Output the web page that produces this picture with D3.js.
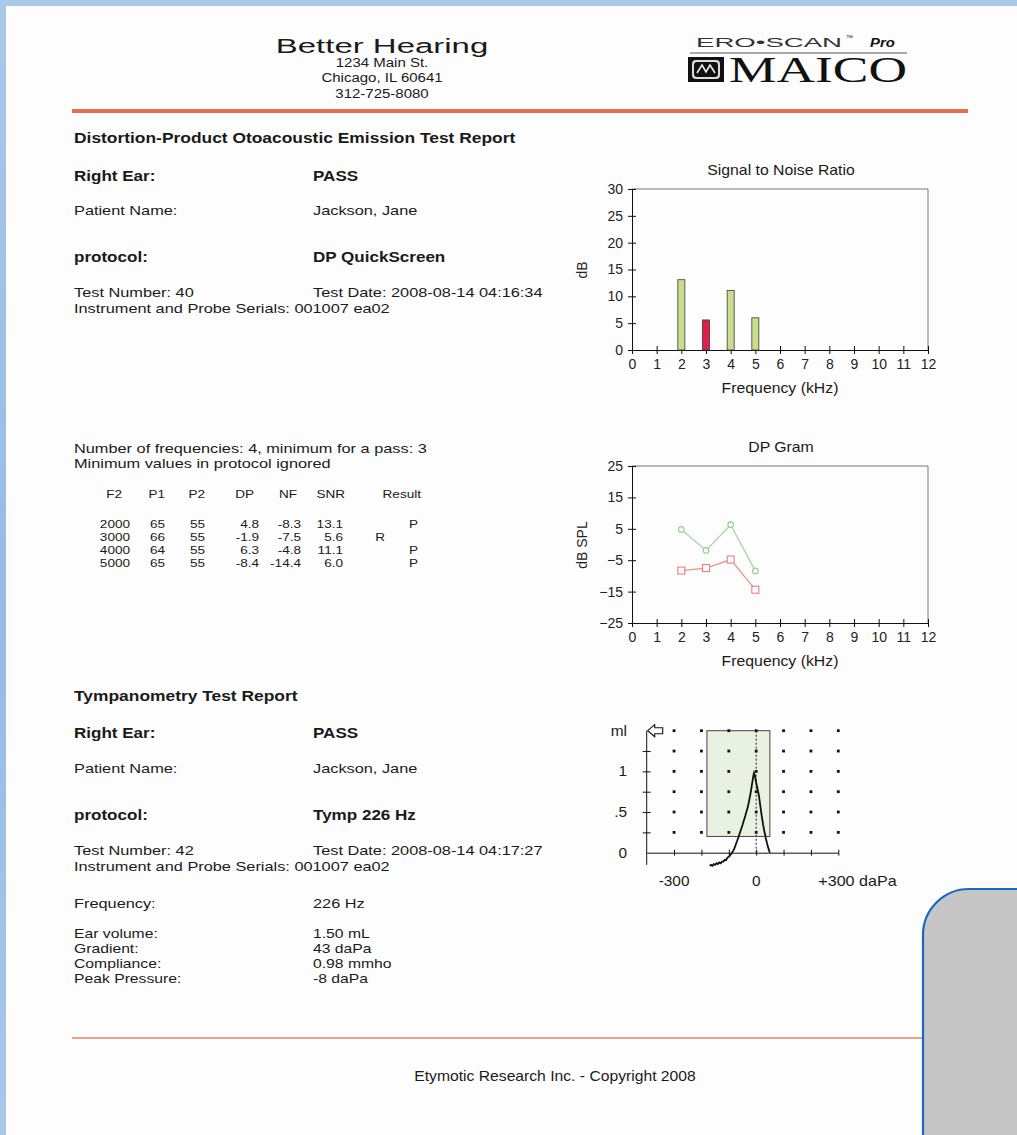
<!DOCTYPE html>
<html><head><meta charset="utf-8">
<script src="https://cdn.jsdelivr.net/npm/d3@7"></script>
<style>
html,body{margin:0;padding:0;background:#fff;}
svg{display:block;font-family:"Liberation Sans",Arial,sans-serif;}
</style></head>
<body>
<svg id="c" width="1017" height="1135"></svg>
<script>
// ---------- DATA ----------
const f2 = [2000, 3000, 4000, 5000];
const p1 = [65, 66, 64, 65];
const p2 = [55, 55, 55, 55];
const dpValues = [4.8, -1.9, 6.3, -8.4];
const nfValues = [-8.3, -7.5, -4.8, -14.4];
const snrValues = [13.1, 5.6, 11.1, 6.0];
const results = ["P", "R", "P", "P"];
const freqKHz = [2, 3, 4, 5];
const freqTicks = [0,1,2,3,4,5,6,7,8,9,10,11,12];
const snrTicks = [0,5,10,15,20,25,30];
const dpTicks = [-25,-15,-5,5,15,25];
const tympPressure = [-170,-165,-160,-155,-150,-145,-140,-135,-130,-125,-120,-115,-110,-105,-100,-95,-90,-85,-80,-70,-60,-50,-40,-30,-20,-15,-10,-8,-5,0,5,10,15,20,25,30,35,40,45,50];
const tympCompliance = [-0.16,-0.15,-0.16,-0.14,-0.15,-0.13,-0.14,-0.12,-0.13,-0.11,-0.11,-0.09,-0.09,-0.06,-0.05,-0.03,-0.01,0.02,0.05,0.14,0.24,0.34,0.45,0.57,0.74,0.85,0.95,0.98,0.95,0.86,0.78,0.70,0.58,0.46,0.35,0.26,0.18,0.11,0.05,0.0];
const tympXTicks = [-300,-200,-100,0,100,200,300];
const tympYTicks = [0.25,0.5,0.75,1,1.25];
const tympYLabels = [{v:0,t:"0"},{v:0.5,t:".5"},{v:1,t:"1"},{v:1.5,t:"ml"}];
const passBox = {p0:-180, p1:50, c0:0.2, c1:1.5};

const svg = d3.select("#c");

// ---------- page frame ----------
const bg = svg.append("defs").append("linearGradient").attr("id","bl").attr("x1",0).attr("y1",0).attr("x2",0).attr("y2",1);
bg.append("stop").attr("offset","0%").attr("stop-color","#a9c8ea");
bg.append("stop").attr("offset","55%").attr("stop-color","#96bce4");
bg.append("stop").attr("offset","100%").attr("stop-color","#a8c8ea");
svg.append("rect").attr("x",0).attr("y",0).attr("width",1017).attr("height",1135).attr("fill","url(#bl)");
svg.append("rect").attr("x",6).attr("y",6).attr("width",1011).attr("height",1129).attr("fill","#fdfdfd");

function txt(x,y,s,opt={}){
  const sx = opt.sx===undefined ? 1.21 : opt.sx;
  const t = svg.append("text").attr("transform",`translate(${x},${y}) scale(${sx},1)`).text(s)
    .attr("font-size",opt.size||13.5).attr("fill",opt.fill||"#1a1a1a");
  if(opt.bold) t.attr("font-weight","bold");
  if(opt.anchor) t.attr("text-anchor",opt.anchor);
  if(opt.family) t.attr("font-family",opt.family);
  if(opt.style) t.attr("font-style",opt.style);
  return t;
}

// ---------- header ----------
txt(382,53,"Better Hearing",{size:21,anchor:"middle",sx:1.57});
txt(382,67,"1234 Main St.",{size:12,anchor:"middle",sx:1.25});
txt(382,82,"Chicago, IL 60641",{size:12,anchor:"middle",sx:1.25});
txt(382,98,"312-725-8080",{size:12,anchor:"middle",sx:1.25});

// logo
txt(696,47,"ERO\u2022SCAN",{size:13.5,fill:"#333",sx:1}).attr("textLength",146).attr("lengthAdjust","spacingAndGlyphs");
txt(846,40,"\u2122",{size:7,fill:"#222",sx:1});
txt(870,47,"Pro",{size:13.5,bold:true,style:"italic",fill:"#111",sx:1.1});
svg.append("line").attr("x1",690).attr("x2",907).attr("y1",53).attr("y2",53).attr("stroke","#555").attr("stroke-width",1);
svg.append("rect").attr("x",688).attr("y",57).attr("width",36).attr("height",25).attr("fill","#111");
svg.append("rect").attr("x",692).attr("y",60).attr("width",28).attr("height",19).attr("rx",4).attr("fill","#ddd");
svg.append("rect").attr("x",694).attr("y",62).attr("width",24).attr("height",15).attr("rx",3).attr("fill","#111");
svg.append("path").attr("d","M697,73 L702,65 L706,72 L710,65 L715,73").attr("fill","none").attr("stroke","#eee").attr("stroke-width",1.6);
txt(729,82,"MAICO",{size:35.5,family:"Liberation Serif",fill:"#111",sx:1}).attr("textLength",178).attr("lengthAdjust","spacingAndGlyphs");

svg.append("line").attr("x1",72).attr("x2",968).attr("y1",111).attr("y2",111).attr("stroke","#e4704c").attr("stroke-width",4);

// ---------- DPOAE text ----------
const L = 74, R = 313;
const H = {size:15,bold:true,sx:1.16};
const B = {size:15.5,bold:true,sx:1.1};
txt(L,143,"Distortion-Product Otoacoustic Emission Test Report",H);
txt(L,181,"Right Ear:",B);
txt(R,181,"PASS",B);
txt(L,215,"Patient Name:");
txt(R,215,"Jackson, Jane");
txt(L,262,"protocol:",B);
txt(R,262,"DP QuickScreen",B);
txt(L,297,"Test Number: 40");
txt(R,297,"Test Date: 2008-08-14 04:16:34");
txt(L,313,"Instrument and Probe Serials: 001007 ea02");
txt(L,453,"Number of frequencies: 4, minimum for a pass: 3");
txt(L,468,"Minimum values in protocol ignored");

// table
const T = {anchor:"end",size:11.5,sx:1.18};
const hdr = [{t:"F2",x:122},{t:"P1",x:165},{t:"P2",x:205},{t:"DP",x:254},{t:"NF",x:297},{t:"SNR",x:345},{t:"Result",x:421}];
hdr.forEach(h=>txt(h.x,497.5,h.t,T));
const rowY = [527.5,540.8,554.1,567.4];
f2.forEach((f,i)=>{
  const y=rowY[i];
  txt(130,y,String(f),T);
  txt(165,y,String(p1[i]),T);
  txt(205,y,String(p2[i]),T);
  txt(259,y,dpValues[i].toFixed(1),T);
  txt(301,y,nfValues[i].toFixed(1),T);
  txt(343,y,snrValues[i].toFixed(1),T);
  txt(results[i]==="P"?418:385,y,results[i],T);
});

// ---------- chart helpers ----------
const px0=632, px1=928;
const xF = d3.scaleLinear().domain([0,12]).range([px0,px1]);
function frame(yTop,yBot,yScale,yTicks,title,ylab,ylabY){
  svg.append("path").attr("d",`M${px0},${yTop}H${px1}V${yBot}`).attr("fill","none").attr("stroke","#777").attr("stroke-width",1);
  const gx = svg.append("g").attr("transform",`translate(0,${yBot})`)
    .call(d3.axisBottom(xF).tickValues(freqTicks).tickSize(4).tickSizeOuter(0));
  gx.select(".domain").attr("stroke","#111");
  gx.selectAll(".tick line").attr("y1",-4).attr("y2",4).attr("stroke","#111");
  gx.selectAll(".tick text").attr("font-size",14).attr("font-family","Liberation Sans").attr("fill","#222").attr("y",9);
  const gy = svg.append("g").attr("transform",`translate(${px0},0)`)
    .call(d3.axisLeft(yScale).tickValues(yTicks).tickSize(4).tickSizeOuter(0));
  gy.select(".domain").attr("stroke","#111");
  gy.selectAll(".tick line").attr("x1",-4).attr("x2",4).attr("stroke","#111");
  gy.selectAll(".tick text").attr("font-size",14).attr("font-family","Liberation Sans").attr("fill","#222").attr("x",-9);
  txt(781,yTop-14,title,{anchor:"middle",size:14,sx:1.13});
  txt(780,yBot+43,"Frequency (kHz)",{anchor:"middle",size:14,sx:1.13});
  svg.append("text").attr("transform",`translate(587,${ylabY}) rotate(-90)`).attr("text-anchor","middle")
    .attr("font-size",14).attr("fill","#222").text(ylab);
}

// SNR chart
const ySNR = d3.scaleLinear().domain([0,30]).range([350,189]);
frame(189,350,ySNR,snrTicks,"Signal to Noise Ratio","dB",270);
svg.append("g").selectAll("rect").data(freqKHz).join("rect")
  .attr("x",d=>xF(d)-3.5).attr("width",7)
  .attr("y",(d,i)=>ySNR(snrValues[i])).attr("height",(d,i)=>ySNR(0)-ySNR(snrValues[i]))
  .attr("fill",(d,i)=>results[i]==="P"?"#c9df8e":"#e01e4c")
  .attr("stroke","#3a3a3a").attr("stroke-width",0.8);

// DP gram
const yDP = d3.scaleLinear().domain([-25,25]).range([623,466]);
frame(466,623,yDP,dpTicks,"DP Gram","dB SPL",545);
const ln = d3.line().x((d,i)=>xF(freqKHz[i])).y(d=>yDP(d));
svg.append("path").datum(dpValues).attr("d",ln).attr("fill","none").attr("stroke","#9fd79f").attr("stroke-width",1.2);
svg.append("path").datum(nfValues).attr("d",ln).attr("fill","none").attr("stroke","#f08c8c").attr("stroke-width",1.2);
svg.append("g").selectAll("circle").data(dpValues).join("circle")
  .attr("cx",(d,i)=>xF(freqKHz[i])).attr("cy",d=>yDP(d)).attr("r",2.8)
  .attr("fill","#fff").attr("stroke","#8fcf8f").attr("stroke-width",1.1);
svg.append("g").selectAll("rect").data(nfValues).join("rect")
  .attr("x",(d,i)=>xF(freqKHz[i])-3.5).attr("y",d=>yDP(d)-3.5).attr("width",7).attr("height",7)
  .attr("fill","#fff").attr("stroke","#ee7c7c").attr("stroke-width",1.1);

// ---------- Tympanometry text ----------
txt(L,701,"Tympanometry Test Report",H);
txt(L,738,"Right Ear:",B);
txt(R,738,"PASS",B);
txt(L,773,"Patient Name:");
txt(R,773,"Jackson, Jane");
txt(L,820,"protocol:",B);
txt(R,820,"Tymp 226 Hz",B);
txt(L,855,"Test Number: 42");
txt(R,855,"Test Date: 2008-08-14 04:17:27");
txt(L,871,"Instrument and Probe Serials: 001007 ea02");
txt(L,908,"Frequency:");
txt(R,908,"226 Hz");
const info = [["Ear volume:","1.50 mL"],["Gradient:","43 daPa"],["Compliance:","0.98 mmho"],["Peak Pressure:","-8 daPa"]];
info.forEach((d,i)=>{ txt(L,938+15*i,d[0],{size:13}); txt(R,938+15*i,d[1],{size:13}); });

// ---------- Tympanogram ----------
const xT = d3.scaleLinear().domain([-400,300]).range([646.7,838.3]);
const yT = d3.scaleLinear().domain([0,1.5]).range([852.7,730.7]);
svg.append("rect").attr("x",xT(passBox.p0)).attr("y",yT(passBox.c1))
  .attr("width",xT(passBox.p1)-xT(passBox.p0)).attr("height",yT(passBox.c0)-yT(passBox.c1))
  .attr("fill","#e9f2e2").attr("stroke","#444").attr("stroke-width",1);
const dots=[];
tympXTicks.forEach(p=>[0.25,0.5,0.75,1,1.25,1.5].forEach(c=>dots.push([p,c])));
svg.append("g").selectAll("rect").data(dots).join("rect")
  .attr("x",d=>xT(d[0])-1.4).attr("y",d=>yT(d[1])-1.4).attr("width",2.8).attr("height",2.8).attr("fill","#111");
svg.append("line").attr("x1",xT(0)).attr("x2",xT(0)).attr("y1",yT(1.5)).attr("y2",yT(0))
  .attr("stroke","#222").attr("stroke-width",1).attr("stroke-dasharray","2,2");
svg.append("line").attr("x1",xT(-400)).attr("x2",xT(-400)).attr("y1",yT(1.5)).attr("y2",yT(-0.15)).attr("stroke","#111");
const gtx = svg.append("g").attr("transform",`translate(0,${yT(0)})`)
  .call(d3.axisBottom(xT).tickValues(tympXTicks).tickSize(3).tickSizeOuter(0).tickFormat(""));
gtx.select(".domain").attr("stroke","#111");
gtx.selectAll(".tick line").attr("y1",-3).attr("y2",3).attr("stroke","#111");
const gty = svg.append("g").attr("transform",`translate(${xT(-400)},0)`)
  .call(d3.axisLeft(yT).tickValues(tympYTicks).tickSize(4).tickSizeOuter(0).tickFormat(""));
gty.select(".domain").remove();
gty.selectAll(".tick line").attr("x1",-4).attr("x2",4).attr("stroke","#111");
tympYLabels.forEach(d=>txt(627,yT(d.v)+5,d.t,{anchor:"end",size:14,sx:1.1}));
txt(xT(-300),886,"-300",{anchor:"middle",size:14,sx:1.1});
txt(xT(0),886,"0",{anchor:"middle",size:14,sx:1.1});
txt(xT(300)-20,886,"+300 daPa",{size:14,sx:1.15});
const ax=xT(-400)+1, ay=yT(1.5);
svg.append("path").attr("d",`M${ax},${ay} L${ax+7},${ay-6} L${ax+7},${ay-3} L${ax+15},${ay-3} L${ax+15},${ay+3} L${ax+7},${ay+3} L${ax+7},${ay+6} Z`)
  .attr("fill","#fff").attr("stroke","#111").attr("stroke-width",1.1);
const tl = d3.line().x((d,i)=>xT(tympPressure[i])).y(d=>yT(d));
svg.append("path").datum(tympCompliance).attr("d",tl).attr("fill","none").attr("stroke","#111").attr("stroke-width",1.8);

// ---------- footer ----------
svg.append("line").attr("x1",72).attr("x2",930).attr("y1",1038).attr("y2",1038).attr("stroke","#e88060").attr("stroke-width",1.5);
txt(555,1081,"Etymotic Research Inc. - Copyright 2008",{anchor:"middle",size:14,sx:1.12});

svg.append("rect").attr("x",923).attr("y",889).attr("width",140).attr("height",300).attr("rx",46)
  .attr("fill","#c6c6c6").attr("stroke","#1769c2").attr("stroke-width",2.2);
</script>
</body></html>
